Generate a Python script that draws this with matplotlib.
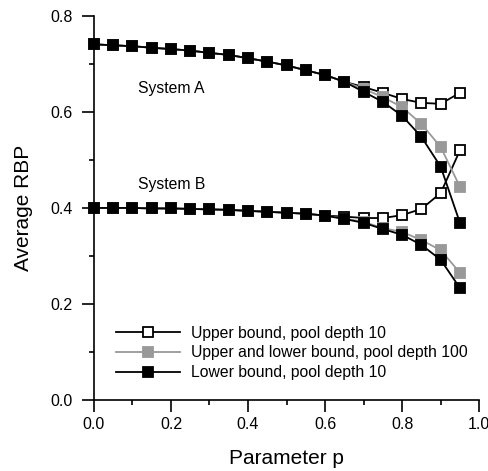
import numpy as np
import matplotlib.pyplot as plt

plt.rcParams['font.family'] = ['Liberation Sans', 'DejaVu Sans']

p = [0.0, 0.05, 0.1, 0.15, 0.2, 0.25, 0.3, 0.35, 0.4, 0.45,
     0.5, 0.55, 0.6, 0.65, 0.7, 0.75, 0.8, 0.85, 0.9, 0.95]

# System A
a_common = [0.741, 0.739, 0.737, 0.734, 0.731, 0.728, 0.723, 0.719, 0.712, 0.705,
            0.697, 0.687, 0.677, 0.663]
a_upper = a_common + [0.652, 0.640, 0.627, 0.619, 0.617, 0.640]
a_mid = a_common + [0.648, 0.631, 0.610, 0.575, 0.527, 0.444]
a_lower = a_common + [0.642, 0.621, 0.592, 0.548, 0.486, 0.369]

# System B
b_common = [0.400, 0.400, 0.400, 0.399, 0.399, 0.398, 0.397, 0.396, 0.394, 0.392,
            0.390, 0.388, 0.384]
b_upper = b_common + [0.382, 0.379, 0.379, 0.385, 0.398, 0.431, 0.520]
b_mid = b_common + [0.378, 0.371, 0.358, 0.350, 0.333, 0.312, 0.265]
b_lower = b_common + [0.377, 0.369, 0.356, 0.344, 0.323, 0.292, 0.233]

labels = ['Upper bound, pool depth 10',
          'Upper and lower bound, pool depth 100',
          'Lower bound, pool depth 10']

fig = plt.figure(figsize=(4.89, 4.71), dpi=100)
ax = fig.add_axes([0.192, 0.151, 0.788, 0.815])

styles = [dict(color='black', mfc='white', mec='black'),
          dict(color='#999999', mfc='#999999', mec='#999999'),
          dict(color='black', mfc='black', mec='black')]

for ya, yb, st, lab in zip([a_upper, a_mid, a_lower], [b_upper, b_mid, b_lower], styles, labels):
    ax.plot(p, ya, marker='s', ms=7.5, lw=1.3, mew=1.3, clip_on=False, label=lab, **st)
    ax.plot(p, yb, marker='s', ms=7.5, lw=1.3, mew=1.3, clip_on=False, **st)

ax.text(0.114, 0.648, 'System A', fontsize=11.3, va='center')
ax.text(0.114, 0.448, 'System B', fontsize=11.3, va='center')

ax.set_xlim(0, 1.0)
ax.set_ylim(0, 0.8)
ax.set_xticks(np.arange(0, 1.01, 0.2))
ax.set_xticks(np.arange(0.1, 1.0, 0.2), minor=True)
ax.set_yticks(np.arange(0, 0.81, 0.2))
ax.set_yticks(np.arange(0.1, 0.8, 0.2), minor=True)
ax.xaxis.set_major_formatter(plt.FormatStrFormatter('%.1f'))
ax.yaxis.set_major_formatter(plt.FormatStrFormatter('%.1f'))
ax.tick_params(which='major', direction='out', length=8.5, width=1.2, labelsize=11.5, pad=4)
ax.tick_params(axis='y', which='major', pad=7)
ax.tick_params(which='minor', direction='out', length=3.8, width=1.2)
for s in ['top', 'right']:
    ax.spines[s].set_visible(False)
for s in ['left', 'bottom']:
    ax.spines[s].set_linewidth(1.2)

ax.set_xlabel('Parameter p', fontsize=15, labelpad=12)
ax.set_ylabel('Average RBP', fontsize=15, labelpad=12)

ax.legend(loc='lower left', bbox_to_anchor=(0.02, 0.015), frameon=False, fontsize=11.3,
          handlelength=4.1, labelspacing=0.3, handletextpad=0.7)

fig.savefig('out.png', dpi=100)
